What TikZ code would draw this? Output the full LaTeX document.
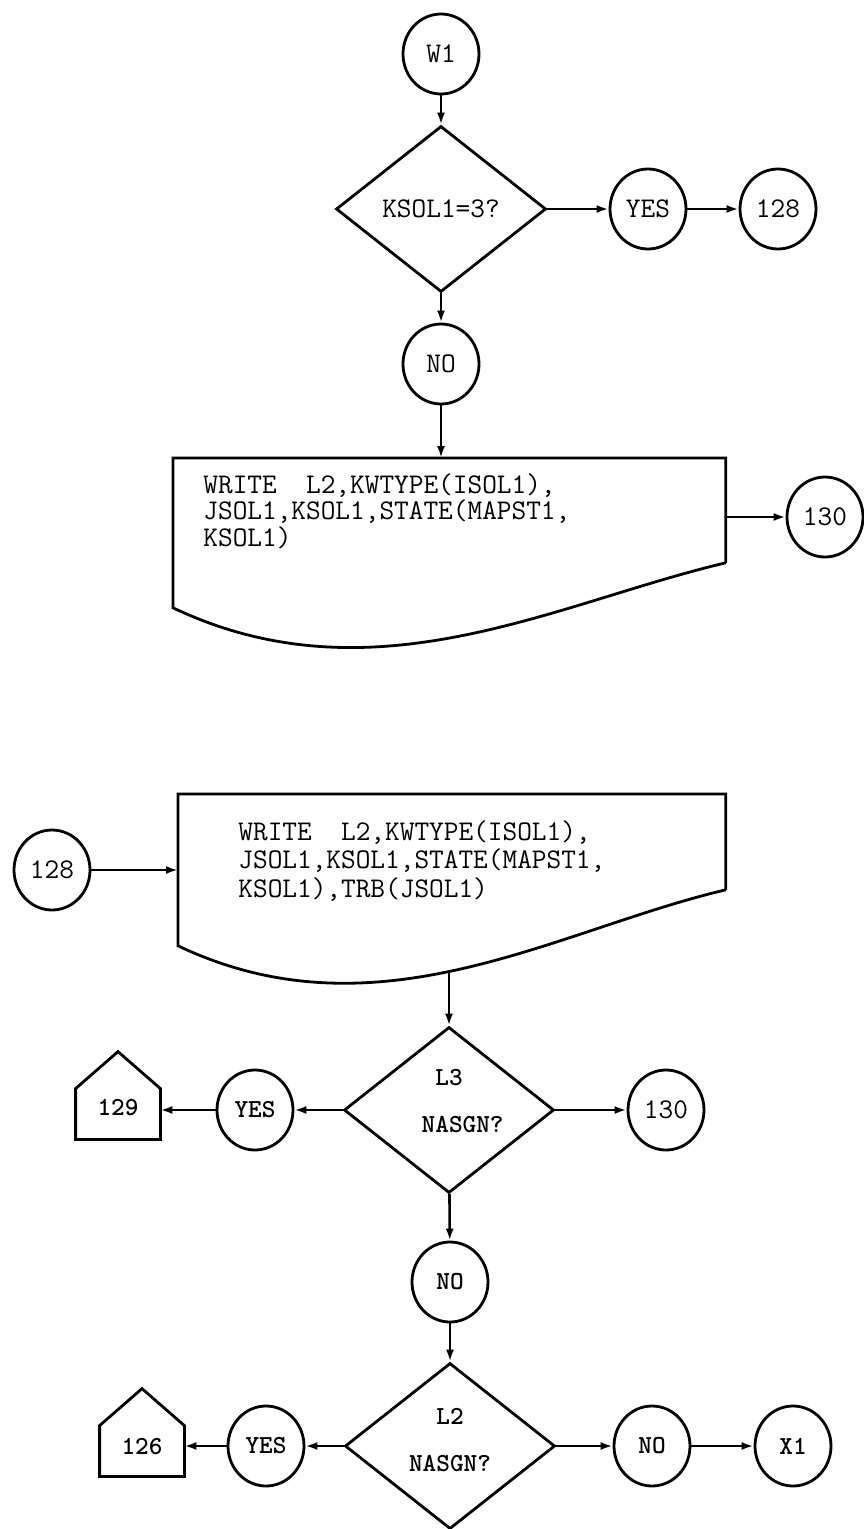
\documentclass[tikz,border=0pt]{standalone}
\usetikzlibrary{arrows.meta,positioning,calc,shapes.geometric}

\begin{document}
\begin{tikzpicture}[x=1pt, y=-1pt, font=\ttfamily\fontsize{28.5}{26.5}\selectfont,
  line width=2.8pt, >={Latex[length=12pt,width=8pt]},
  term/.style={ellipse, draw, minimum width=76pt, minimum height=80pt, inner sep=0pt},
  decision/.style={diamond, draw, minimum width=210pt, minimum height=166pt, inner sep=0pt, align=center},
  heavy/.style={font=\ttfamily\bfseries\fontsize{26}{28}\selectfont},
  house/.style={minimum width=82pt, minimum height=48pt, inner sep=0pt},
  sheet/.style={minimum width=550pt, inner sep=0pt, anchor=north west},
  listing/.style={align=left, inner sep=0pt},
  flow/.style={->, line width=2.6pt}]
\useasboundingbox (0,0) rectangle (863,1529);

\node[term] (w1) at (441,54) {W1};
\node[decision] (q1) at (441,209) {KSOL1=3?};
\node[term] (yes1) at (648,209) {YES};
\node[term] (go128) at (778,209) {128};
\node[term] (no1) at (441,364) {NO};
\draw[flow] (w1) -- (q1);
\draw[flow] (q1) -- (yes1);
\draw[flow] (yes1) -- (go128);
\draw[flow] (q1) -- (no1);

\node[sheet, minimum height=102pt] (wr1) at (173,458) {};
\node[listing, below right=14pt and 29pt of wr1.north west] (txt1)
  {WRITE\ \ L2,KWTYPE(ISOL1),\\JSOL1,KSOL1,STATE(MAPST1,\\KSOL1)};
\draw (wr1.south east) -- (wr1.north east) -- (wr1.north west)
  -- ($(wr1.south west)+(0,45)$)
  .. controls ($(wr1.south west)+(200,140)$) and ($(wr1.south east)+(-170,40)$) .. (wr1.south east);
\draw[flow] (no1) -- (no1 |- wr1.north);
\node[term] (go130a) at (825,517) {130};
\draw[flow] (wr1.east |- go130a) -- (go130a);

\node[term] (from128) at (52,870) {128};
\node[sheet, minimum width=545pt, minimum height=93pt] (wr2) at (178,794) {};
\node[listing, below right=25pt and 59pt of wr2.north west, font=\ttfamily\fontsize{28.5}{28.5}\selectfont] (txt2)
  {WRITE\ \ L2,KWTYPE(ISOL1),\\JSOL1,KSOL1,STATE(MAPST1,\\KSOL1),TRB(JSOL1)};
\draw (wr2.south east) -- (wr2.north east) -- (wr2.north west)
  -- ($(wr2.south west)+(0,56)$)
  .. controls ($(wr2.south west)+(200,151)$) and ($(wr2.south east)+(-170,40)$) .. (wr2.south east)
  coordinate[pos=0.48] (wr2out);
\draw[flow] (from128) -- (from128 -| wr2.west);

\node[decision, label={[heavy, align=center, yshift=9pt]center:{L3\\[19pt]\ \ NASGN?}}] (q2) at (449,1110) {};
\node[term, heavy] (yes2) at (255,1110) {YES};
\node[house, heavy, text depth=14pt] (go129) at (118,1114) {129};
\draw (go129.south west) -- (go129.north west) -- ($(go129.north)+(0,-37)$)
  -- (go129.north east) -- (go129.south east) -- cycle;
\node[term] (go130b) at (666,1110) {130};
\draw[flow] (q2.north |- wr2out) -- (q2.north);
\draw[flow] (q2) -- (yes2);
\draw[flow] (yes2) -- (yes2 -| go129.east);
\draw[flow] (q2) -- (go130b);

\node[term, heavy] (no2) at (450,1282) {NO};
\draw[flow] (q2) -- (no2);
\node[decision, label={[heavy, align=center, yshift=6pt]center:{L2\\[19pt]NASGN?}}] (q3) at (450,1446) {};
\draw[flow] (no2) -- (q3);
\node[term, heavy] (yes3) at (266,1446) {YES};
\node[house, heavy, text depth=9pt] (go126) at (142,1451) {126};
\draw (go126.south west) -- (go126.north west) -- ($(go126.north)+(0,-37)$)
  -- (go126.north east) -- (go126.south east) -- cycle;
\node[term, heavy] (no3) at (652,1446) {NO};
\node[term, heavy] (x1) at (793,1446) {X1};
\draw[flow] (q3) -- (yes3);
\draw[flow] (yes3) -- (yes3 -| go126.east);
\draw[flow] (q3) -- (no3);
\draw[flow] (no3) -- (x1);
\end{tikzpicture}
\end{document}
